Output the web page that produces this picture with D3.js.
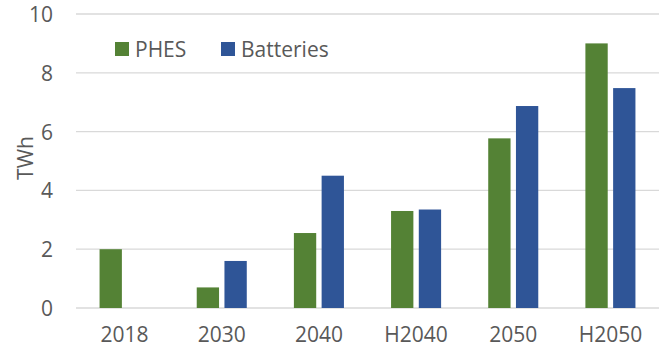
<!DOCTYPE html>
<html>
<head>
<meta charset="utf-8">
<script src="https://cdn.jsdelivr.net/npm/d3@7"></script>
<style>
  html, body { margin: 0; padding: 0; background: #fff; }
  svg { display: block; font-family: "Open Sans", sans-serif; }
</style>
</head>
<body>
<svg id="chart" width="662" height="350"></svg>
<script>
// Storage capacity by scenario (TWh)
const categories = ["2018", "2030", "2040", "H2040", "2050", "H2050"];
const seriesNames = ["PHES", "Batteries"];
const phesValues = [2.0, 0.7, 2.55, 3.3, 5.77, 9.0];
const batteryValues = [null, 1.6, 4.5, 3.35, 6.87, 7.48];
const yTicks = [0, 2, 4, 6, 8, 10];
const colors = ["#548235", "#2F5597"];

(function draw() {
  const svg = d3.select("#chart");
  const plotLeft = 76, plotRight = 659, plotTop = 14, plotBottom = 308;

  const x0 = d3.scaleBand().domain(categories).range([plotLeft, plotRight]).paddingInner(0).paddingOuter(0);
  const x1 = d3.scaleBand().domain(seriesNames).range([0, x0.bandwidth()])
    .paddingInner(0.195).paddingOuter(0.85);
  const y = d3.scaleLinear().domain([0, 10]).range([plotBottom, plotTop]);

  // Horizontal gridlines
  svg.append("g").selectAll("line").data(yTicks).join("line")
    .attr("x1", plotLeft).attr("x2", plotRight)
    .attr("y1", d => y(d)).attr("y2", d => y(d))
    .attr("stroke", "#d9d9d9").attr("stroke-width", 1.3);

  // Y-axis tick labels
  const yAxis = d3.axisLeft(y).tickValues(yTicks).tickSize(0).tickPadding(0);
  const yg = svg.append("g").attr("transform", "translate(53,0)").call(yAxis);
  yg.select(".domain").remove();
  yg.selectAll("text").attr("fill", "#595959").style("font-size", "21px")
    .style("font-family", "'Open Sans', sans-serif").attr("dy", "0.36em");

  // X-axis category labels
  const xAxis = d3.axisBottom(x0).tickSize(0).tickPadding(0);
  const xg = svg.append("g").attr("transform", "translate(0,327)").call(xAxis);
  xg.select(".domain").remove();
  xg.selectAll("text").attr("fill", "#595959").style("font-size", "21px")
    .style("font-family", "'Open Sans', sans-serif");

  // Y-axis title
  svg.append("text")
    .attr("transform", "translate(33,158) rotate(-90)")
    .attr("text-anchor", "middle")
    .attr("fill", "#595959").style("font-size", "21px")
    .text("TWh");

  // Bars
  const rows = categories.map((c, i) => ({ cat: c, vals: [phesValues[i], batteryValues[i]] }));
  const groups = svg.append("g").selectAll("g").data(rows).join("g")
    .attr("transform", d => `translate(${x0(d.cat)},0)`);
  groups.selectAll("rect")
    .data(d => d.vals.map((v, j) => ({ s: seriesNames[j], v, j })).filter(e => e.v != null))
    .join("rect")
    .attr("x", d => x1(d.s))
    .attr("width", x1.bandwidth())
    .attr("y", d => y(d.v))
    .attr("height", d => y(0) - y(d.v))
    .attr("fill", d => colors[d.j]);

  // Legend
  const legendX = [115, 221];
  const lg = svg.append("g").selectAll("g").data(seriesNames).join("g")
    .attr("transform", (d, i) => `translate(${legendX[i]},42)`);
  lg.append("rect").attr("width", 14).attr("height", 14).attr("fill", (d, i) => colors[i]);
  lg.append("text").attr("x", 20).attr("y", 14.5)
    .attr("fill", "#595959").style("font-size", "21px").text(d => d);
})();
</script>
</body>
</html>
